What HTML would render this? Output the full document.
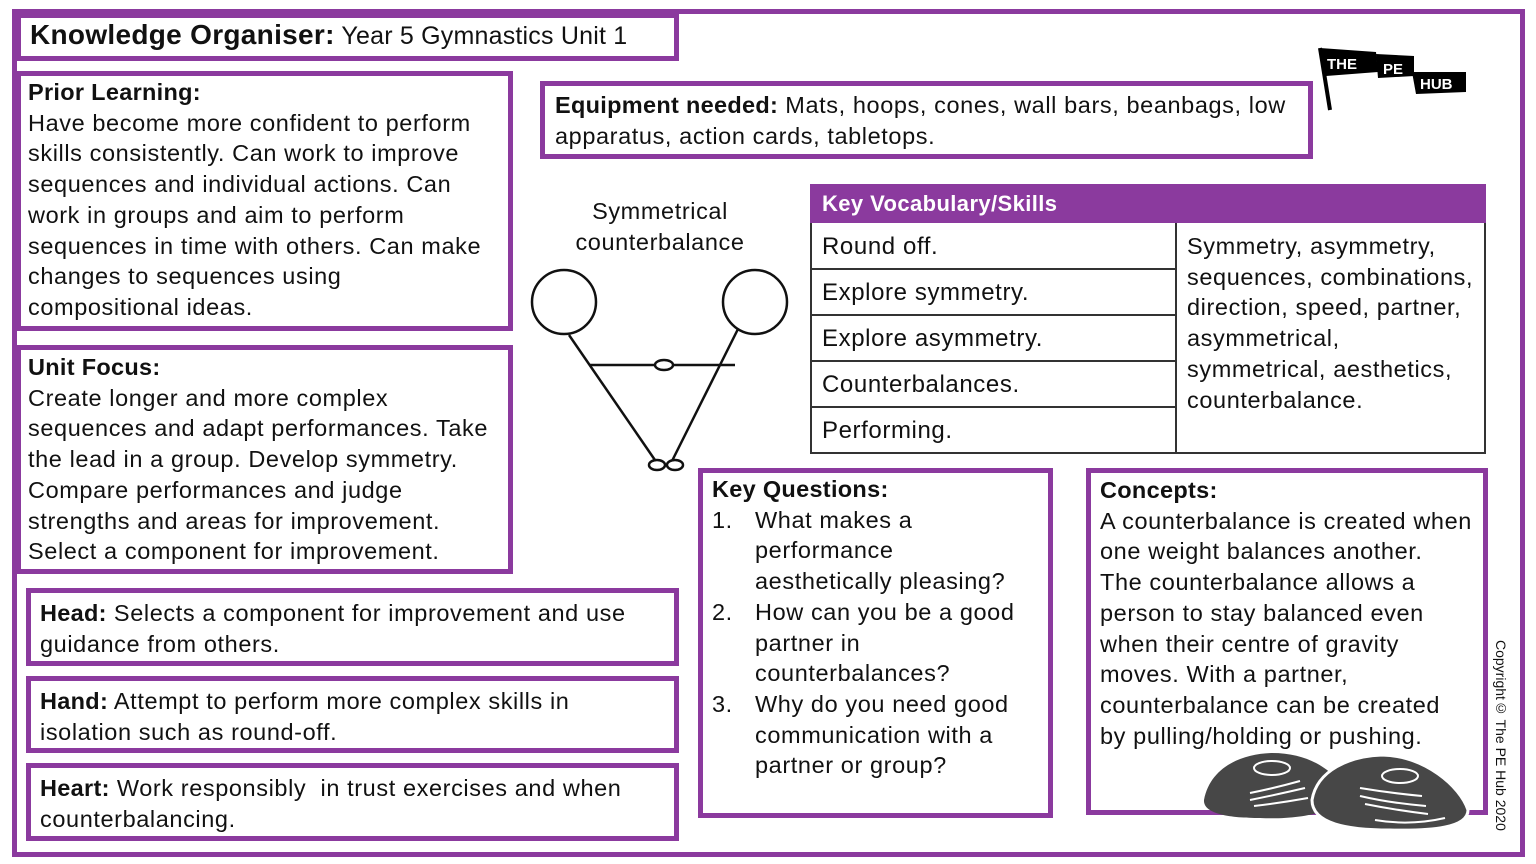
<!DOCTYPE html>
<html><head><meta charset="utf-8"><style>
body{margin:0;width:1536px;height:864px;background:#fff;position:relative;overflow:hidden;font-family:"Liberation Sans",sans-serif;color:#111}
.b{position:absolute;border:5px solid #8b3a9e;box-sizing:border-box}
.t{position:absolute;font-size:23.5px;line-height:30.7px;white-space:nowrap;letter-spacing:0.6px}
b{font-weight:bold;letter-spacing:0.3px}
.q{position:relative;padding-left:43px}
.q span{position:absolute;left:0}
</style></head><body>
<div class="b" style="left:12px;top:9px;width:1513px;height:848px"></div>
<div class="b" style="left:16px;top:13px;width:663px;height:48px;background:#fff"></div>
<div class="t" style="left:30px;top:20px;font-size:25px;letter-spacing:0.2px"><b style="font-size:28px">Knowledge Organiser:</b> Year 5 Gymnastics Unit 1</div>

<div class="b" style="left:16px;top:71px;width:497px;height:260px"></div>
<div class="t" style="left:28px;top:77px"><b>Prior Learning:</b><br>Have become more confident to perform<br>skills consistently. Can work to improve<br>sequences and individual actions. Can<br>work in groups and aim to perform<br>sequences in time with others. Can make<br>changes to sequences using<br>compositional ideas.</div>

<div class="b" style="left:16px;top:345px;width:497px;height:229px"></div>
<div class="t" style="left:28px;top:352px"><b>Unit Focus:</b><br>Create longer and more complex<br>sequences and adapt performances. Take<br>the lead in a group. Develop symmetry.<br>Compare performances and judge<br>strengths and areas for improvement.<br>Select a component for improvement.</div>

<div class="b" style="left:26px;top:588px;width:653px;height:78px"></div>
<div class="t" style="left:40px;top:598px"><b>Head:</b> Selects a component for improvement and use<br>guidance from others.</div>
<div class="b" style="left:26px;top:676px;width:653px;height:77px"></div>
<div class="t" style="left:40px;top:686px"><b>Hand:</b> Attempt to perform more complex skills in<br>isolation such as round-off.</div>
<div class="b" style="left:26px;top:763px;width:653px;height:78px"></div>
<div class="t" style="left:40px;top:773px"><b>Heart:</b> Work responsibly&nbsp; in trust exercises and when<br>counterbalancing.</div>

<div class="b" style="left:540px;top:81px;width:773px;height:78px"></div>
<div class="t" style="left:555px;top:90px"><b>Equipment needed:</b> Mats, hoops, cones, wall bars, beanbags, low<br>apparatus, action cards, tabletops.</div>

<div class="t" style="left:545px;top:196px;width:230px;text-align:center;white-space:normal">Symmetrical counterbalance</div>
<svg style="position:absolute;left:525px;top:265px" width="270" height="210" viewBox="0 0 270 210">
<g fill="none" stroke="#111" stroke-width="2.5">
<circle cx="39" cy="37" r="32"/><circle cx="230" cy="37" r="32"/>
<line x1="44" y1="70" x2="132" y2="198"/><line x1="213" y1="64" x2="146" y2="198"/>
<line x1="65" y1="100" x2="210" y2="100"/>
<ellipse cx="139" cy="100" rx="9" ry="5" fill="#fff"/>
<ellipse cx="132" cy="200" rx="8" ry="5" fill="#fff"/><ellipse cx="150" cy="200" rx="8" ry="5" fill="#fff"/>
</g></svg>

<div style="position:absolute;left:810px;top:184px;width:676px;height:270px;border:2px solid #333;box-sizing:border-box"></div>
<div style="position:absolute;left:810px;top:184px;width:676px;height:39px;background:#8b3a9e;color:#fff;font-weight:bold;font-size:22px;line-height:39px;padding-left:12px;box-sizing:border-box;letter-spacing:0.4px">Key Vocabulary/Skills</div>
<div style="position:absolute;left:1175px;top:223px;width:2px;height:231px;background:#333"></div>
<div style="position:absolute;left:810px;top:268px;width:366px;height:2px;background:#333"></div>
<div style="position:absolute;left:810px;top:314px;width:366px;height:2px;background:#333"></div>
<div style="position:absolute;left:810px;top:360px;width:366px;height:2px;background:#333"></div>
<div style="position:absolute;left:810px;top:406px;width:366px;height:2px;background:#333"></div>
<div class="t" style="left:822px;top:232px;font-size:24px">Round off.</div>
<div class="t" style="left:822px;top:278px;font-size:24px">Explore symmetry.</div>
<div class="t" style="left:822px;top:324px;font-size:24px">Explore asymmetry.</div>
<div class="t" style="left:822px;top:370px;font-size:24px">Counterbalances.</div>
<div class="t" style="left:822px;top:416px;font-size:24px">Performing.</div>
<div class="t" style="left:1187px;top:231px">Symmetry, asymmetry,<br>sequences, combinations,<br>direction, speed, partner,<br>asymmetrical,<br>symmetrical, aesthetics,<br>counterbalance.</div>

<div class="b" style="left:698px;top:468px;width:355px;height:350px"></div>
<div class="t" style="left:712px;top:474px"><b>Key Questions:</b>
<div class="q"><span>1.</span>What makes a</div><div class="q">performance</div><div class="q">aesthetically pleasing?</div>
<div class="q"><span>2.</span>How can you be a good</div><div class="q">partner in</div><div class="q">counterbalances?</div>
<div class="q"><span>3.</span>Why do you need good</div><div class="q">communication with a</div><div class="q">partner or group?</div></div>

<div class="b" style="left:1086px;top:468px;width:402px;height:347px"></div>
<div class="t" style="left:1100px;top:475px"><b>Concepts:</b><br>A counterbalance is created when<br>one weight balances another.<br>The counterbalance allows a<br>person to stay balanced even<br>when their centre of gravity<br>moves. With a partner,<br>counterbalance can be created<br>by pulling/holding or pushing.</div>

<svg style="position:absolute;left:1200px;top:748px" width="280" height="85" viewBox="0 0 280 85">
<path d="M4 52 C10 20 40 6 72 5 C112 5 135 25 145 42 C145 64 100 72 60 70 C30 70 3 66 4 52Z" fill="#474747"/>
<path d="M112 52 C117 22 150 8 182 7 C225 8 260 38 268 62 C268 80 232 83 190 82 C148 82 112 76 112 52Z" fill="#474747" stroke="#fff" stroke-width="3"/>
<g fill="none" stroke="#fff" stroke-width="2"><ellipse cx="72" cy="20" rx="18" ry="7"/><ellipse cx="200" cy="28" rx="18" ry="7"/>
<path d="M50 45 Q75 40 100 33"/><path d="M50 52 Q75 47 105 40"/><path d="M54 58 Q80 55 108 50"/><path d="M160 40 Q190 45 222 48"/><path d="M160 48 Q190 55 226 58"/><path d="M165 56 Q195 62 228 66"/><path d="M175 72 Q210 78 245 70"/></g></svg>

<div style="position:absolute;left:1493px;top:640px;writing-mode:vertical-rl;font-size:14px;white-space:nowrap">Copyright© The PE Hub 2020</div>

<svg style="position:absolute;left:1316px;top:46px" width="155" height="68" viewBox="0 0 155 68">
<line x1="4" y1="2" x2="14" y2="64" stroke="#000" stroke-width="4"/>
<polygon points="4,2 60,6 62,26 10,30" fill="#000"/>
<polygon points="60,8 98,10 98,30 62,32" fill="#000"/>
<polygon points="96,26 150,26 150,46 100,48" fill="#000"/>
<text x="11" y="23" fill="#fff" font-family="Liberation Sans" font-weight="bold" font-size="15">THE</text>
<text x="67" y="28" fill="#fff" font-family="Liberation Sans" font-weight="bold" font-size="15">PE</text>
<text x="104" y="43" fill="#fff" font-family="Liberation Sans" font-weight="bold" font-size="15">HUB</text>
</svg>
</body></html>
